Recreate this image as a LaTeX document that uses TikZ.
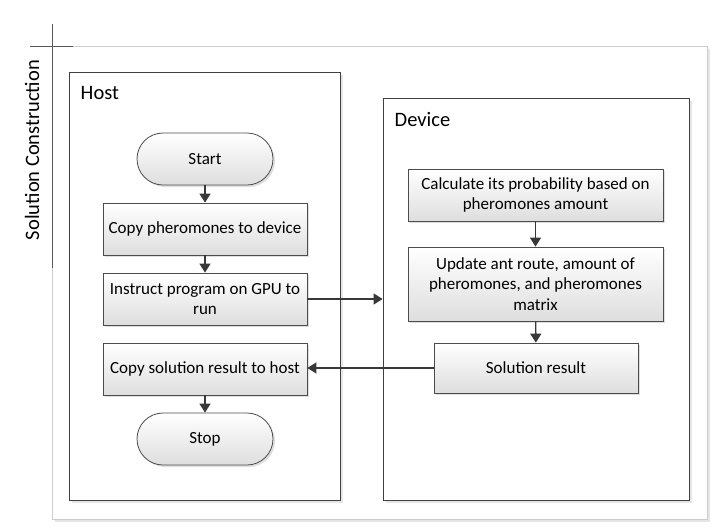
\documentclass[tikz,border=0pt]{standalone}
\usepackage{fontspec}
\setmainfont{Carlito}
\usetikzlibrary{arrows.meta,shadows}

\begin{document}
\begin{tikzpicture}[x=1pt, y=-1pt, line width=0.8pt, line join=miter,
  font=\fontsize{17}{20.5}\selectfont,
  procbox/.style={draw=black!70, top color=white, bottom color=black!13,
    minimum width=204pt, minimum height=52pt, align=center, inner sep=2pt,
    drop shadow={shadow xshift=2pt, shadow yshift=-2pt, opacity=0.25}},
  termbox/.style={procbox, minimum width=136pt, rounded corners=26pt},
  lanebox/.style={draw=black!75, fill=white,
    drop shadow={shadow xshift=2.5pt, shadow yshift=-2.5pt, opacity=0.2}},
  lanelabel/.style={font=\fontsize{20.5}{24}\selectfont},
  flow/.style={draw=black!78, line width=1.4pt, -{Triangle[width=11pt,length=9pt]}}]

  %% ════ outer frame and swimlane header ════
  \draw[black!10, line width=2pt] (55,521) -- (709,521) -- (709,49);
  \draw[black!20, line width=1pt] (52,46) rectangle (707,519);
  \draw[black!65, line width=1pt] (52,24) -- (52,268);
  \draw[black!65, line width=1pt] (30,46) -- (73,46);
  \node[lanelabel, rotate=90] (lanetitle) at (32,150) {Solution Construction};

  %% ════ lanes ════
  \node[lanebox, minimum width=271pt, minimum height=428pt] (host) at (204.5,286) {};
  \node[lanebox, minimum width=306pt, minimum height=402pt] (device) at (536,299) {};
  \node[lanelabel, anchor=west] (hostlabel) at (77,93) {Host};
  \node[lanelabel, anchor=west] (devicelabel) at (391,120) {Device};

  %% ════ host steps ════
  \node[termbox] (start) at (205,159) {Start};
  \node[procbox] (copyph) at (205,229) {Copy pheromones to device};
  \node[procbox] (instr) at (205,299) {Instruct program on GPU to\\run};
  \node[procbox] (copysol) at (205,369) {Copy solution result to host};
  \node[termbox] (stop) at (205,439) {Stop};

  %% ════ device steps ════
  \node[procbox, minimum width=255pt] (calc) at (535.5,195) {Calculate its probability based on\\pheromones amount};
  \node[procbox, minimum width=255pt, minimum height=74pt] (update) at (535.5,284) {Update ant route, amount of\\pheromones, and pheromones\\matrix};
  \node[procbox, minimum width=204pt, minimum height=50pt] (solres) at (536,368) {Solution result};

  %% ════ connectors ════
  \draw[flow] (start) -- (copyph);
  \draw[flow] (copyph) -- (instr);
  \draw[flow] (copysol) -- (stop);
  \draw[flow] (calc) -- (update);
  \draw[flow] (update) -- (solres);
  \draw[flow] (instr.east) -- (instr.east -| device.west);
  \draw[flow] (solres.west) -- (solres.west -| copysol.east);

  \pgfresetboundingbox
  \path[use as bounding box] (0,0) rectangle (722,531);
\end{tikzpicture}
\end{document}
